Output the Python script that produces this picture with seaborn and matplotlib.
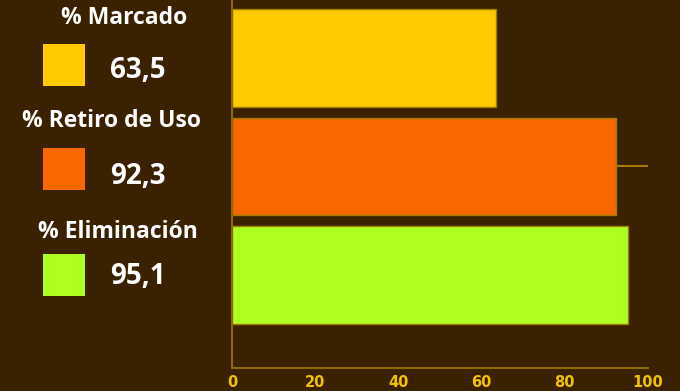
import matplotlib
matplotlib.use("Agg")
import matplotlib.pyplot as plt
import seaborn as sns
import pandas as pd

# Indicator data
categories = ["% Marcado", "% Retiro de Uso", "% Eliminación"]
values = [63.5, 92.3, 95.1]
value_labels = ["63,5", "92,3", "95,1"]
errors = [0.0, 7.7, 0.0]
colors = ["#FFCB00", "#F76800", "#AEFF22"]
x_ticks = [0, 20, 40, 60, 80, 100]

BG = "#3A2200"
GOLD = "#8C6A00"
TICK_TXT = "#F2C200"

sns.set_theme(style="white")
plt.rcParams["font.family"] = ["Open Sans", "DejaVu Sans"]

df = pd.DataFrame({"categoria": categories, "valor": values})

fig = plt.figure(figsize=(6.8, 3.91), dpi=100, facecolor=BG)
ax = fig.add_axes([232 / 680, 1 - 368 / 391, (648 - 232) / 680, 368 / 391])
ax.set_facecolor(BG)

# Error line behind the bars
ax.errorbar(values, range(len(values)), xerr=errors, fmt="none",
            ecolor="#B08600", elinewidth=1.3, capsize=0, zorder=1)

sns.barplot(data=df, x="valor", y="categoria", hue="categoria",
            palette=colors, saturation=1, orient="h", width=0.9, legend=False,
            edgecolor="#A07C00", linewidth=1.0, ax=ax, zorder=2)

ax.set_xlim(0, 100)
ax.set_ylim(2.86, -0.535)
ax.set_xticks(x_ticks)
ax.set_xticklabels([str(t) for t in x_ticks], fontsize=10.5, fontweight="bold",
                   color=TICK_TXT, family="DejaVu Sans")
ax.tick_params(axis="x", direction="in", length=10, width=1.3, color=GOLD, pad=5)
ax.set_yticks([])
ax.set_xlabel("")
ax.set_ylabel("")
for side in ["top", "right"]:
    ax.spines[side].set_visible(False)
for side in ["left", "bottom"]:
    ax.spines[side].set_color(GOLD)
    ax.spines[side].set_linewidth(1.5)

# Legend-style panel on the left: title, colour swatch and value
title_y = [18, 121, 232]
swatch_y = [44, 148, 254]
value_y = [70, 176, 276]
title_x = [124, 111, 118]
for i, cat in enumerate(categories):
    fig.text(title_x[i] / 680, 1 - title_y[i] / 391, cat, ha="center", va="center",
             color="white", fontsize=16.5, fontweight="bold")
    fig.patches.append(plt.Rectangle((43 / 680, 1 - (swatch_y[i] + 42) / 391),
                                     42 / 680, 42 / 391, transform=fig.transFigure,
                                     facecolor=colors[i], edgecolor="none"))
    fig.text(138 / 680, 1 - value_y[i] / 391, value_labels[i], ha="center",
             va="center", color="white", fontsize=20, fontweight="bold")

fig.savefig("out.png", dpi=100, facecolor=BG)
